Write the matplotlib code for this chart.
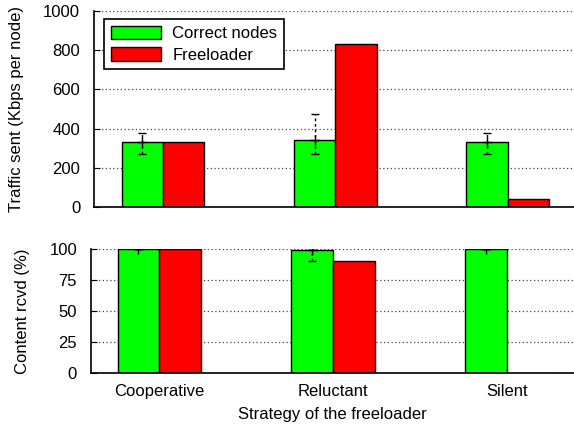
import matplotlib.pyplot as plt
import numpy as np

plt.rcParams['font.family'] = ['Liberation Sans', 'DejaVu Sans']

strategies = ["Cooperative", "Reluctant", "Silent"]
traffic_correct = [333, 343, 333]
traffic_correct_lo = [270, 270, 270]
traffic_correct_hi = [377, 474, 377]
traffic_free = [333, 830, 41]
content_correct = [100, 99, 100]
content_correct_lo = [100, 90.5, 100]
content_correct_hi = [100, 101, 100]
content_free = [100, 90, 0]

x = np.arange(len(strategies))
w = 0.24
green = "#00ff00"
red = "#ff0000"
fs = 12

fig = plt.figure(figsize=(5.74, 4.26), dpi=100)
ax1 = fig.add_axes([0.1638, 0.514, 0.8362, 0.460])
ax2 = fig.add_axes([0.1585, 0.1244, 0.8415, 0.2911])


def style(ax):
    for s in ["top", "right"]:
        ax.spines[s].set_visible(False)
    ax.spines["left"].set_linewidth(1.2)
    ax.spines["bottom"].set_linewidth(1.2)
    ax.tick_params(axis="y", direction="in", length=4, labelsize=fs, pad=10)
    ax.tick_params(axis="x", length=0, labelsize=fs, pad=8)
    ax.yaxis.grid(True, linestyle=(0, (1, 2)), color="#444444", linewidth=0.9)
    ax.set_axisbelow(True)


b1 = ax1.bar(x - w / 2, traffic_correct, w, color=green, edgecolor="black", linewidth=1, label="Correct nodes")
b2 = ax1.bar(x + w / 2, traffic_free, w, color=red, edgecolor="black", linewidth=1, label="Freeloader")
err1 = [np.array(traffic_correct) - traffic_correct_lo, np.array(traffic_correct_hi) - traffic_correct]
eb = ax1.errorbar(x - w / 2, traffic_correct, yerr=err1, fmt="+", color="black", markersize=7,
                  ecolor="black", elinewidth=1, capsize=3, capthick=1)
eb[2][0].set_linestyle((0, (2, 2)))
ax1.set_xlim(-0.40, 2.385)
ax1.set_ylim(0, 1000)
ax1.set_yticks([0, 200, 400, 600, 800, 1000])
ax1.set_xticks(x)
ax1.set_xticklabels([])
style(ax1)
ax1.set_ylabel("Traffic sent (Kbps per node)", fontsize=fs, labelpad=14)
leg = ax1.legend(handles=[b1, b2], loc="upper left", bbox_to_anchor=(0.021, 0.96), borderaxespad=0,
                 fontsize=fs, frameon=True, fancybox=False, edgecolor="black",
                 handlelength=3.0, handleheight=0.9, handletextpad=0.7,
                 borderpad=0.4, labelspacing=0.35)
leg.get_frame().set_linewidth(1.2)
leg.get_frame().set_alpha(1)

ax2.bar(x - w / 2, content_correct, w, color=green, edgecolor="black", linewidth=1)
ax2.bar(x + w / 2, content_free, w, color=red, edgecolor="black", linewidth=1)
err2 = [np.array(content_correct) - content_correct_lo, np.array(content_correct_hi) - content_correct]
eb2 = ax2.errorbar(x - w / 2, content_correct, yerr=err2, fmt="+", color="black", markersize=7,
                   ecolor="black", elinewidth=1, capsize=3, capthick=1)
eb2[2][0].set_linestyle((0, (2, 2)))
ax2.set_xlim(-0.393, 2.385)
ax2.set_ylim(0, 100)
ax2.set_yticks([0, 25, 50, 75, 100])
ax2.set_xticks(x)
ax2.set_xticklabels(strategies)
style(ax2)
ax2.set_ylabel("Content rcvd (%)", fontsize=fs, labelpad=14)
ax2.set_xlabel("Strategy of the freeloader", fontsize=fs, labelpad=6)

fig.savefig("out.png", dpi=100)
